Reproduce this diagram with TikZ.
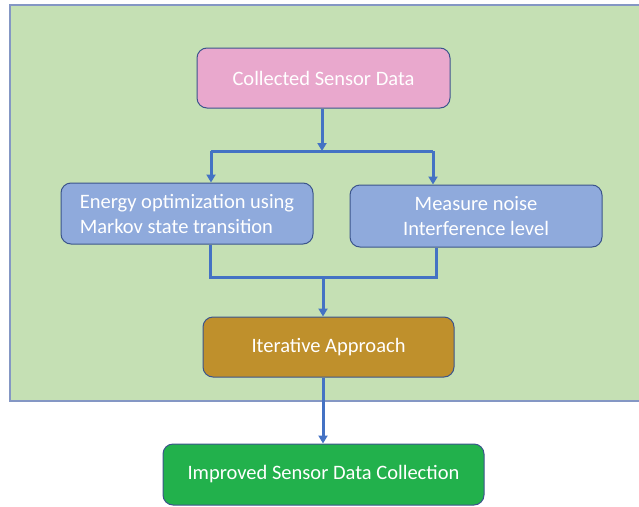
\documentclass[tikz,border=0pt]{standalone}
\usepackage{fontspec}
\setmainfont{Carlito}
\usetikzlibrary{arrows.meta,calc}
\definecolor{bggreen}{RGB}{197,224,180}
\definecolor{bgedge}{RGB}{132,151,196}
\definecolor{boxedge}{RGB}{60,85,140}
\definecolor{pinkfill}{RGB}{233,168,205}
\definecolor{bluefill}{RGB}{143,170,220}
\definecolor{goldfill}{RGB}{191,144,44}
\definecolor{greenfill}{RGB}{34,177,76}
\definecolor{linkblue}{RGB}{68,114,196}
\tikzset{
  stage/.style={draw=boxedge,line width=1pt,rounded corners=10pt,text=white,
    inner sep=0pt,align=center,font=\fontsize{20.5}{25}\selectfont},% flow box
  link/.style={linkblue,line width=3pt},
  flow/.style={link,-{Triangle[length=8pt,width=9pt]}},
}

\begin{document}
\begin{tikzpicture}[x=1pt,y=-1pt]
  \useasboundingbox (0,0) rectangle (639,506);
  % green background panel
  \fill[bggreen] (10,5) rectangle (650,401);
  \draw[bgedge,line width=1.2pt] (650,5) -- (10,5) -- (10,401) -- (650,401);
  % boxes
  \node[stage,fill=pinkfill,minimum width=253pt,minimum height=60pt] (collected) at (323.5,78) {Collected Sensor Data};
  \node[stage,fill=bluefill,minimum width=252pt,minimum height=61pt,align=left] (energy) at (187,213.5) {Energy optimization using\\Markov state transition};
  \node[stage,fill=bluefill,minimum width=252pt,minimum height=62pt] (noise) at (476,216) {Measure noise\\Interference level};
  \node[stage,fill=goldfill,minimum width=251pt,minimum height=60pt] (iter) at (328.5,347) {Iterative Approach};
  \node[stage,fill=greenfill,minimum width=321pt,minimum height=61pt] (improved) at (323.5,474.5) {Improved Sensor Data Collection};
  % split and merge points
  \coordinate (split) at (322,151);
  \coordinate (splitL) at (211,151);
  \coordinate (splitR) at (433,151);
  \coordinate (joinL) at (210,277);
  \coordinate (joinR) at (436,277);
  \coordinate (join) at (323,277);
  % connectors
  \draw[flow] (collected.south -| split) -- (split);
  \draw[link] (splitL) -- (splitR);
  \draw[flow] (splitL) -- (energy.north -| splitL);
  \draw[flow] (splitR) -- (noise.north -| splitR);
  \draw[link] (energy.south -| joinL) -- (joinL) -- (joinR) -- (noise.south -| joinR);
  \draw[flow] (join) -- (iter.north -| join);
  \draw[flow] (iter.south -| join) -- (improved.north -| join);
\end{tikzpicture}
\end{document}
